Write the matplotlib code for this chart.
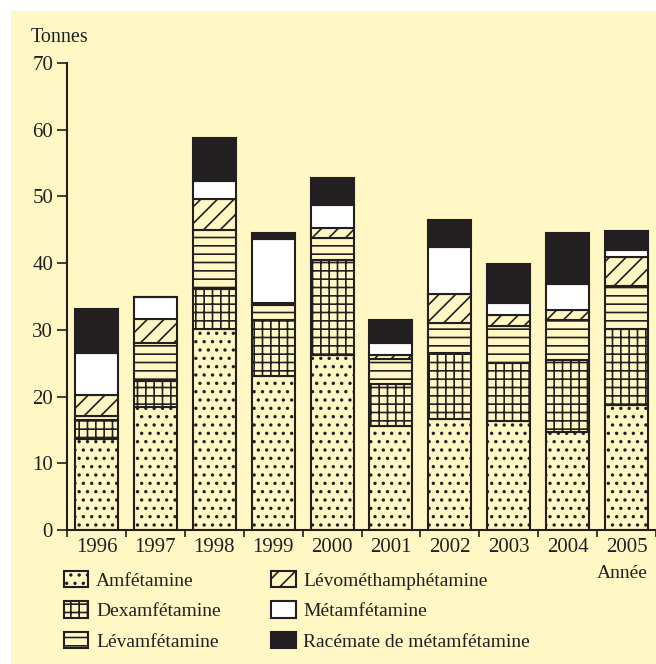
import numpy as np
import matplotlib.pyplot as plt
from matplotlib.patches import Rectangle

# data (tonnes, stacked bottom -> top)
years = ['1996', '1997', '1998', '1999', '2000', '2001', '2002', '2003', '2004', '2005']
amfetamine = [13.6, 18.4, 30.1, 23.1, 26.3, 15.6, 16.7, 16.3, 14.7, 18.8]
dexamfetamine = [2.9, 4.0, 6.0, 8.4, 14.2, 6.3, 9.9, 8.8, 10.8, 11.3]
levamfetamine = [0.6, 5.7, 8.8, 2.3, 3.2, 3.7, 4.4, 5.5, 6.0, 6.5]
levomethamphetamine = [3.2, 3.6, 4.7, 0.3, 1.5, 0.6, 4.4, 1.6, 1.5, 4.3]
metamfetamine = [6.3, 3.3, 2.7, 9.5, 3.5, 1.9, 7.0, 1.9, 3.9, 1.1]
racemate = [6.5, 0.0, 6.4, 0.9, 4.1, 3.4, 4.1, 5.7, 7.6, 2.8]

labels = ['Amfétamine', 'Dexamfétamine', 'Lévamfétamine',
          'Lévométhamphétamine', 'Métamfétamine', 'Racémate de métamfétamine']

YELLOW = '#fff8c4'
INK = '#231f20'

plt.rcParams['font.family'] = ['Liberation Serif', 'DejaVu Serif']
plt.rcParams['hatch.linewidth'] = 1.2
plt.rcParams['hatch.color'] = INK

fig = plt.figure(figsize=(6.56, 6.64), dpi=100)
fig.patch.set_facecolor('white')
# yellow panel behind everything
panel = Rectangle((11 / 656, 0), 1, 1 - 11 / 664, transform=fig.transFigure,
                  facecolor=YELLOW, edgecolor='none', zorder=-10)
fig.add_artist(panel)

ax = fig.add_axes([67 / 656, 134 / 664, 589 / 656, 467 / 664])
ax.set_facecolor('none')

x = np.arange(len(years))
series = [
    (amfetamine, YELLOW, '..'),
    (dexamfetamine, YELLOW, '++'),
    (levamfetamine, YELLOW, '--'),
    (levomethamphetamine, YELLOW, '//'),
    (metamfetamine, 'white', None),
    (racemate, INK, None),
]

bottom = np.zeros(len(years))
handles = []
for (vals, face, hatch), lab in zip(series, labels):
    vals = np.array(vals)
    bars = ax.bar(x, vals, width=0.73, bottom=bottom, facecolor=face, edgecolor=INK,
                  hatch=hatch, linewidth=1.5, label=lab)
    handles.append(bars)
    bottom += vals

ax.set_xlim(-0.5, 9.5)
ax.set_ylim(0, 70)
for s in ['top', 'right']:
    ax.spines[s].set_visible(False)
for s in ['left', 'bottom']:
    ax.spines[s].set_linewidth(1.5)
    ax.spines[s].set_color(INK)

ax.set_yticks(np.arange(0, 71, 10))
ax.tick_params(axis='y', length=7, width=1.2, colors=INK, labelsize=15, pad=3)
ax.set_xticks(x, years)
ax.tick_params(axis='x', which='major', length=0, labelsize=15, colors=INK, pad=6)
ax.set_xticks(np.arange(-0.5, 10, 1), minor=True)
ax.tick_params(axis='x', which='minor', length=5, width=1.2, colors=INK)

fig.text(31 / 656, 1 - 37 / 664, 'Tonnes', fontsize=14.5, color=INK, va='center', ha='left')
fig.text(622 / 656, 1 - 573 / 664, 'Année', fontsize=14, color=INK, va='center', ha='center')

leg = fig.legend(handles, labels, ncol=2, loc='upper left',
                 bbox_to_anchor=(64 / 656, 1 - 571 / 664), frameon=False,
                 fontsize=14, handlelength=1.25, handleheight=0.9,
                 handletextpad=0.4, labelspacing=0.6, columnspacing=2.6,
                 borderaxespad=0, borderpad=0)
for t in leg.get_texts():
    t.set_color(INK)

fig.savefig('out.png', dpi=100, facecolor='white')
